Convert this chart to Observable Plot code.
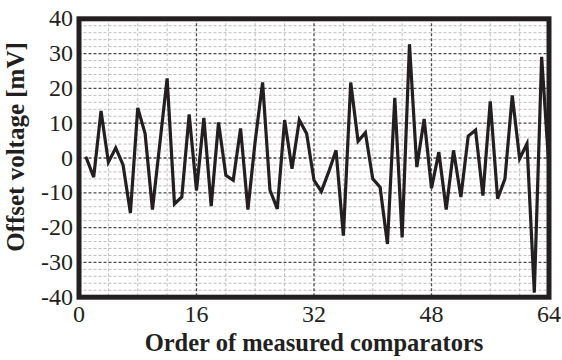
<!DOCTYPE html>
<html>
<head>
<meta charset="utf-8">
<script src="https://cdn.jsdelivr.net/npm/d3@7"></script>
<script src="https://cdn.jsdelivr.net/npm/@observablehq/plot@0.6"></script>
<style>
  html, body { margin: 0; padding: 0; background: #fff; }
  #chart svg { display: block; }
  #chart svg, #chart svg text { font-family: "Liberation Serif", "Times New Roman", Times, "Nimbus Roman", serif !important; }
</style>
</head>
<body>
<div id="chart"></div>
<script>
const comparatorOrder = [1,2,3,4,5,6,7,8,9,10,11,12,13,14,15,16,17,18,19,20,21,22,23,24,25,26,27,28,29,30,31,32,33,34,35,36,37,38,39,40,41,42,43,44,45,46,47,48,49,50,51,52,53,54,55,56,57,58,59,60,61,62,63,64];
const offsetVoltage = [0,-5.5,13.5,-1.2,2.9,-2,-15.8,14.4,7,-14.8,4,22.9,-13.2,-11.2,12.5,-9.3,11.5,-13.8,10.2,-5,-6.4,8.5,-14.8,5,21.7,-9.2,-14.6,10.9,-3.1,10.9,7,-6.4,-9.6,-4,2.2,-22.3,21.7,4.8,7.3,-6,-8.4,-24.7,17.3,-22.8,32.7,-2.6,11.2,-8.7,1.7,-14.8,2.2,-11.2,6.3,8,-10.8,16.3,-11.7,-6,18,-0.2,4.1,-38.7,29.1,-3];
const xTicks = [0,16,32,48,64];
const yTicks = [-40,-30,-20,-10,0,10,20,30,40];
const xMinor = [4,8,12,20,24,28,36,40,44,52,56,60];
const yMinor = [-38,-36,-34,-32,-28,-26,-24,-22,-18,-16,-14,-12,-8,-6,-4,-2,2,4,6,8,12,14,16,18,22,24,26,28,32,34,36,38];
const xTitle = ["Order of measured comparators"];
const yTitle = ["Offset voltage [mV]"];

const data = comparatorOrder.map((o, i) => ({order: o, v: offsetVoltage[i]}));
const ink = "#231f20";

const chart = Plot.plot({
  width: 562,
  height: 360,
  marginLeft: 78.5,
  marginRight: 13.5,
  marginTop: 18.3,
  marginBottom: 63.3,
  style: {fontSize: "24px", color: ink, background: "#fff"},
  x: {domain: [0, 64]},
  y: {domain: [-40, 40]},
  marks: [
    Plot.ruleY(yMinor, {stroke: "#bdbdbd", strokeWidth: 1, strokeDasharray: "3,2"}),
    Plot.ruleX(xMinor, {stroke: "#bdbdbd", strokeWidth: 1, strokeDasharray: "3,2"}),
    Plot.ruleY(yTicks.filter(d => d > -40 && d < 40), {stroke: "#4a4a4a", strokeWidth: 1.3, strokeDasharray: "3,2"}),
    Plot.ruleX(xTicks.filter(d => d > 0 && d < 64), {stroke: "#4a4a4a", strokeWidth: 1.3, strokeDasharray: "3,2"}),
    Plot.line(data, {x: "order", y: "v", stroke: ink, strokeWidth: 3.2, strokeLinejoin: "miter", strokeMiterlimit: 4}),
    Plot.frame({stroke: ink, strokeWidth: 5}),
    Plot.axisX(xTicks, {tickSize: 0, tickPadding: 8, label: null, fontSize: 24, tickFormat: d => String(d)}),
    Plot.axisY(yTicks, {tickSize: 0, tickPadding: 6, label: null, fontSize: 24, tickFormat: d => String(d)}),
    Plot.text(xTitle, {frameAnchor: "bottom", dy: 54, fontSize: 24.5, fontWeight: "bold", fill: ink, textAnchor: "middle"}),
    Plot.text(yTitle, {frameAnchor: "left", dx: -63, dy: -11, rotate: -90, fontSize: 25, fontWeight: "bold", fill: ink, textAnchor: "middle"})
  ]
});
document.getElementById("chart").appendChild(chart);
</script>
</body>
</html>
